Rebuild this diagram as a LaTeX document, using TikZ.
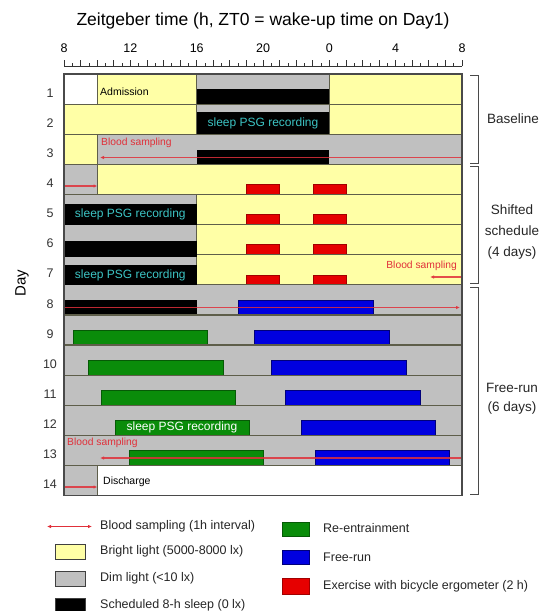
\documentclass[tikz,border=0pt]{standalone}
\usepackage{fontspec}
\setmainfont{Liberation Sans}
\usetikzlibrary{arrows.meta}
\definecolor{bright}{HTML}{FFFFA6}
\definecolor{dim}{HTML}{C0C0C0}
\definecolor{sepc}{HTML}{5E5E4A}
\definecolor{framec}{HTML}{4A4A4A}
\definecolor{reent}{HTML}{0A8C0A}
\definecolor{reentd}{HTML}{065A06}
\definecolor{frun}{HTML}{0000E0}
\definecolor{frund}{HTML}{00007A}
\definecolor{exred}{HTML}{E60000}
\definecolor{bsred}{HTML}{E0303A}
\definecolor{psgcyan}{HTML}{3CC4C4}
\tikzset{
  fs/.style={font=\fontsize{#1}{#1}\selectfont},
  cell/.style={draw=sepc, line width=0.5pt},
  brightcell/.style={cell, fill=bright},
  dimcell/.style={cell, fill=dim},
  whitecell/.style={cell, fill=white},
  sleepbar/.style={fill=black},
  reentbar/.style={fill=reent, draw=reentd, line width=0.5pt},
  frunbar/.style={fill=frun, draw=frund, line width=0.5pt},
  exbar/.style={fill=exred, draw=exred!70!black, line width=0.4pt},
  sepline/.style={draw=sepc, line width=0.9pt},
  bsline/.style={draw=bsred, line width=1.1pt, opacity=0.85},
  bstip/.style={-{Latex[length=4pt,width=3.5pt]}},
  bsstart/.style={{Latex[length=4pt,width=3.5pt]}-},
  bstext/.style={text=bsred, fs=10.3, inner sep=0pt},
  psgtext/.style={text=psgcyan, fs=12, inner sep=0pt},
  brk/.style={draw=framec, line width=1pt},
  rowlab/.style={fs=12.5, text=black!80, inner sep=0pt},
  sidelab/.style={fs=13.5, align=center, inner sep=0pt, text=black!85},
  legtext/.style={fs=12.5, anchor=west, inner sep=0pt, text=black!85},
  legbox/.style={draw=black!75, line width=0.8pt},
}
\begin{document}
\begin{tikzpicture}[x=1pt, y=-1pt]
\useasboundingbox (0,0) rectangle (542,611);
\fill[white] (0,0) rectangle (542,611);

% title
\node[fs=17.5, inner sep=0pt] (title) at (263,21) {Zeitgeber time (h, ZT0 = wake-up time on Day1)};

% axis
\draw[black!80, line width=0.8pt] (64,66) -- (462,66);
\foreach \i in {0,...,48} {
  \pgfmathsetmacro\xx{64+\i*8.29167}
  \pgfmathsetmacro\tl{mod(\i,2)==0 ? 6 : 3}
  \draw[black!80, line width=0.7pt] (\xx,66) -- (\xx,66-\tl);
}
\foreach \lab/\xx [count=\k] in {8/64,12/130.3,16/196.7,20/263,0/329.3,4/395.7,8/462}
  \node[fs=12.5, inner sep=0pt] (ax\k) at (\xx,48) {\lab};

% ---------- Row 1 (74 - 104.1)
\draw[whitecell]  (64,74) rectangle (97.2,104.1);
\draw[brightcell] (97.2,74) rectangle (196.7,104.1);
\draw[dimcell]    (196.7,74) rectangle (329.3,104.1);
\draw[brightcell] (329.3,74) rectangle (462,104.1);
\fill[sleepbar] (196.7,89) rectangle (329.3,104.1);
\node[fs=10.5, anchor=west, inner sep=0pt] (adm) at (100,91.5) {Admission};

% ---------- Row 2 (104.1 - 134.2)
\draw[brightcell] (64,104.1) rectangle (196.7,134.2);
\draw[dimcell]    (196.7,104.1) rectangle (329.3,134.2);
\draw[brightcell] (329.3,104.1) rectangle (462,134.2);
\fill[sleepbar] (196.7,112) rectangle (329.3,134.2);
\node[psgtext] (psg2) at (263,123) {sleep PSG recording};

% ---------- Row 3 (134.2 - 164.3)
\draw[brightcell] (64,134.2) rectangle (97.2,164.3);
\draw[dimcell]    (97.2,134.2) rectangle (462,164.3);
\fill[sleepbar] (196.7,150) rectangle (329.3,164.3);

% ---------- Row 4 (164.3 - 194.4)
\draw[dimcell]    (64,164.3) rectangle (97.2,194.4);
\draw[brightcell] (97.2,164.3) rectangle (462,194.4);
\draw[exbar] (246.4,184.4) rectangle (279.6,194.4);
\draw[exbar] (312.7,184.4) rectangle (345.9,194.4);

% ---------- Rows 5-7
\draw[dimcell]    (64,194.4) rectangle (196.7,224.5);
\draw[brightcell] (196.7,194.4) rectangle (462,224.5);
\draw[exbar] (246.4,214.5) rectangle (279.6,224.5);
\draw[exbar] (312.7,214.5) rectangle (345.9,224.5);

\draw[dimcell]    (64,224.5) rectangle (196.7,254.6);
\draw[brightcell] (196.7,224.5) rectangle (462,254.6);
\draw[exbar] (246.4,244.6) rectangle (279.6,254.6);
\draw[exbar] (312.7,244.6) rectangle (345.9,254.6);

\draw[dimcell]    (64,254.6) rectangle (196.7,284.7);
\draw[brightcell] (196.7,254.6) rectangle (462,284.7);
\draw[exbar] (246.4,274.7) rectangle (279.6,284.7);
\draw[exbar] (312.7,274.7) rectangle (345.9,284.7);

% ---------- Rows 8-13 (dim)
\draw[dimcell] (64,284.7) rectangle (462,314.8);
\fill[sleepbar] (64,300) rectangle (196.7,314.8);
\draw[frunbar] (238,300) rectangle (373,314.8);

\draw[dimcell] (64,314.8) rectangle (462,344.9);
\draw[reentbar] (73,330) rectangle (207,344.9);
\draw[frunbar]  (254,330) rectangle (389,344.9);

\draw[dimcell] (64,344.9) rectangle (462,375);
\draw[reentbar] (88,360) rectangle (223,375);
\draw[frunbar]  (271,360) rectangle (406,375);

\draw[dimcell] (64,375) rectangle (462,405.1);
\draw[reentbar] (101,390.2) rectangle (235,405.1);
\draw[frunbar]  (285,390.2) rectangle (420,405.1);

\draw[dimcell] (64,405.1) rectangle (462,435.2);
\draw[reentbar] (115,420.3) rectangle (249,435.2);
\draw[frunbar]  (301,420.3) rectangle (435,435.2);
\node[fs=12, text=white, inner sep=0pt] (psg12) at (182,427.5) {sleep PSG recording};

\draw[dimcell] (64,435.2) rectangle (462,465.3);
\draw[reentbar] (129,450.4) rectangle (263,465.3);
\draw[frunbar]  (315,450.4) rectangle (449,465.3);

% ---------- Row 14
\draw[dimcell]   (64,465.3) rectangle (97.2,495.4);
\draw[whitecell] (97.2,465.3) rectangle (462,495.4);
\node[fs=10.5, anchor=west, inner sep=0pt] (dis) at (103,481.5) {Discharge};

% row separators
\foreach \yy in {104.1,134.2,164.3,194.4,224.5,254.6,284.7,314.8,344.9,375,405.1,435.2,465.3}
  \draw[sepline] (64,\yy) -- (462,\yy);

% sleep bars of the shifted schedule (drawn over the separators)
\fill[sleepbar] (64,203.5) rectangle (196.7,224.5);
\node[psgtext] (psg5) at (130.3,214) {sleep PSG recording};
\fill[sleepbar] (64,241) rectangle (196.7,257);
\fill[sleepbar] (64,264.5) rectangle (196.7,284.7);
\node[psgtext] (psg7) at (130.3,275) {sleep PSG recording};

% blood sampling
\coordinate (b3s) at (100,157.5); \coordinate (b3e) at (462,157.5);
\draw[bsline, bsstart] (b3s) -- (b3e);
\coordinate (b4s) at (64,186); \coordinate (b4e) at (97.5,186);
\draw[bsline, bstip] (b4s) -- (b4e);
\node[bstext, anchor=west] (bst3) at (101,143) {Blood sampling};

\coordinate (b7s) at (430,277); \coordinate (b7e) at (462,277);
\draw[bsline, bsstart] (b7s) -- (b7e);
\node[bstext, anchor=east] (bst7) at (457,266) {Blood sampling};
\coordinate (b8s) at (64,307.5); \coordinate (b8e) at (460,307.5);
\draw[bsline, bstip] (b8s) -- (b8e);

\coordinate (b13s) at (100,458); \coordinate (b13e) at (462,458);
\draw[bsline, bsstart] (b13s) -- (b13e);
\node[bstext, anchor=west] (bst13) at (67,443) {Blood sampling};
\coordinate (b14s) at (64,487); \coordinate (b14e) at (97.5,487);
\draw[bsline, bstip] (b14s) -- (b14e);

% frame
\draw[framec, line width=1.2pt] (64,74) rectangle (462,495.4);

% row labels
\foreach \n [count=\k from 0] in {1,...,14}
  \node[rowlab] (rl\n) at (50,{74+\k*30.1+19}) {\n};
\node[fs=15, rotate=90, inner sep=0pt] (daylab) at (22,283) {Day};

% brackets
\draw[brk] (470,75) -- (478,75) -- (478,163) -- (470,163);
\draw[brk] (470,166) -- (478,166) -- (478,283) -- (470,283);
\draw[brk] (470,287) -- (478,287) -- (478,494) -- (470,494);
\node[sidelab] (lbase) at (513,119) {Baseline};
\node[sidelab, font=\fontsize{13.5}{21}\selectfont] (lshift) at (512,232) {Shifted\\schedule\\(4 days)};
\node[sidelab, font=\fontsize{13.5}{19}\selectfont] (lfree) at (512,398.5) {Free-run\\(6 days)};

% legend
\coordinate (lgs) at (47,526.5); \coordinate (lge) at (92,526.5);
\draw[draw=bsred, line width=0.9pt, {Latex[length=4pt,width=3.5pt]}-{Latex[length=4pt,width=3.5pt]}] (lgs) -- (lge);
\node[legtext] (lt1) at (100,526.5) {Blood sampling (1h interval)};
\draw[legbox, fill=bright] (55,544) rectangle (85,559);
\node[legtext] (lt2) at (100,551) {Bright light (5000-8000 lx)};
\draw[legbox, fill=dim] (55,571) rectangle (85,586);
\node[legtext] (lt3) at (100,578) {Dim light (<10 lx)};
\draw[legbox, fill=black] (55,598) rectangle (85,611);
\node[legtext] (lt4) at (100,605) {Scheduled 8-h sleep (0 lx)};

\draw[reentbar] (282,522) rectangle (309,536);
\node[legtext] (lt5) at (323,528.5) {Re-entrainment};
\draw[frunbar] (282,550) rectangle (309,564);
\node[legtext] (lt6) at (323,557) {Free-run};
\draw[exbar] (282,578) rectangle (309,594);
\node[legtext] (lt7) at (323,586) {Exercise with bicycle ergometer (2 h)};
\end{tikzpicture}
\end{document}
